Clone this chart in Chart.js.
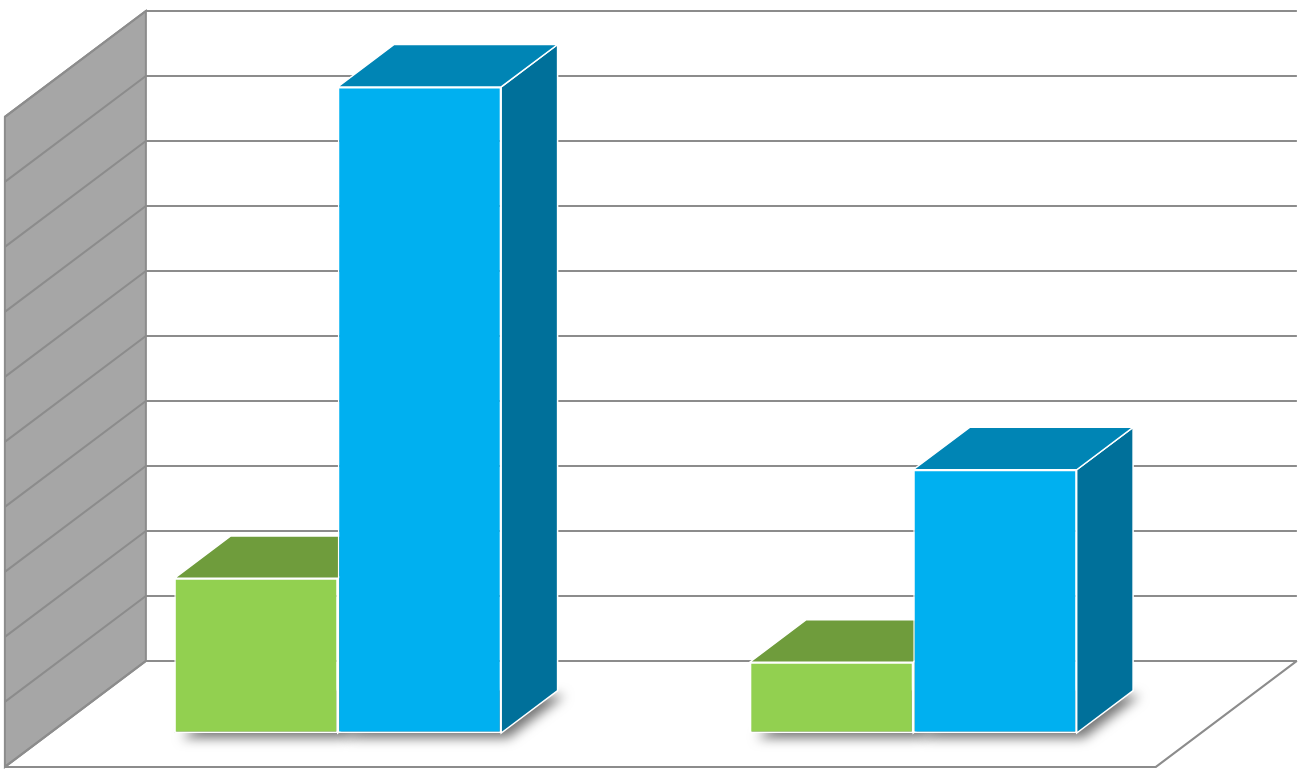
<!DOCTYPE html>
<html>
<head>
<meta charset="utf-8">
<script src="https://cdn.jsdelivr.net/npm/chart.js@4.4.0/dist/chart.umd.min.js"></script>
<style>
  html, body { margin: 0; padding: 0; background: #fff; }
</style>
</head>
<body>
<canvas id="chart" width="1307" height="772"></canvas>
<script>
// data (no axis labels in the original)
const categories = ['Group 1', 'Group 2'];
const greenValues = [2.38, 1.09];
const blueValues = [9.94, 4.05];
const yTicks = [0, 1, 2, 3, 4, 5, 6, 7, 8, 9, 10];

// 3d look
const DEPTH_X = 141, DEPTH_Y = -106; // floor front edge -> back wall
const FRONT = 0.32;                  // where the bar fronts sit in the depth
const BAR_DEPTH = 0.4;
const GRID = '#8c8c8c';

const faceColors = [
    { top: '#6f9c3c', side: '#5f8a30' },
    { top: '#0085b5', side: '#00709a' }
];

function poly(ctx, pts) {
    ctx.beginPath();
    ctx.moveTo(pts[0][0], pts[0][1]);
    for (let i = 1; i < pts.length; i++) ctx.lineTo(pts[i][0], pts[i][1]);
    ctx.closePath();
}

const box3d = {
    id: 'box3d',
    beforeDatasetsDraw(chart) {
        const ctx = chart.ctx;
        const a = chart.chartArea;
        const y = chart.scales.y;
        const bx = (1 - FRONT) * DEPTH_X, by = (1 - FRONT) * DEPTH_Y;
        const fx = -FRONT * DEPTH_X, fy = -FRONT * DEPTH_Y;
        const y0 = y.getPixelForValue(yTicks[0]);
        const yTop = y.getPixelForValue(yTicks[yTicks.length - 1]);

        ctx.save();
        // side wall
        poly(ctx, [[a.left + fx, yTop + fy], [a.left + bx, yTop + by], [a.left + bx, y0 + by], [a.left + fx, y0 + fy]]);
        ctx.fillStyle = '#a6a6a6';
        ctx.fill();
        ctx.strokeStyle = GRID;
        ctx.lineWidth = 2;
        ctx.stroke();

        // gridlines on back wall + side wall
        yTicks.forEach(v => {
            const py = y.getPixelForValue(v);
            ctx.beginPath();
            ctx.moveTo(a.left + fx, py + fy);
            ctx.lineTo(a.left + bx, py + by);
            ctx.lineTo(a.right + bx, py + by);
            ctx.stroke();
        });

        // floor
        ctx.beginPath();
        ctx.moveTo(a.left + fx, y0 + fy);
        ctx.lineTo(a.right + fx, y0 + fy);
        ctx.lineTo(a.right + bx, y0 + by);
        ctx.stroke();

        const dX = BAR_DEPTH * DEPTH_X, dY = BAR_DEPTH * DEPTH_Y;
        const bars = [];
        chart.data.datasets.forEach((ds, i) => {
            chart.getDatasetMeta(i).data.forEach(el => {
                const p = el.getProps(['x', 'y', 'base', 'width'], true);
                bars.push({ i, x0: p.x - p.width / 2, x1: p.x + p.width / 2, top: p.y, base: p.base });
            });
        });

        // soft shadow on the floor
        bars.forEach(b => {
            ctx.save();
            ctx.shadowColor = 'rgba(0,0,0,0.55)';
            ctx.shadowBlur = 12;
            ctx.shadowOffsetX = 7;
            ctx.shadowOffsetY = 5;
            poly(ctx, [[b.x0, b.base], [b.x1, b.base], [b.x1 + dX, b.base + dY], [b.x0 + dX, b.base + dY]]);
            ctx.fillStyle = '#888';
            ctx.fill();
            ctx.restore();
        });

        // top and side faces
        ctx.strokeStyle = '#fff';
        ctx.lineWidth = 1.5;
        bars.forEach(b => {
            const c = faceColors[b.i];
            poly(ctx, [[b.x1, b.top], [b.x1 + dX, b.top + dY], [b.x1 + dX, b.base + dY], [b.x1, b.base]]);
            ctx.fillStyle = c.side;
            ctx.fill();
            ctx.stroke();
            poly(ctx, [[b.x0, b.top], [b.x1, b.top], [b.x1 + dX, b.top + dY], [b.x0 + dX, b.top + dY]]);
            ctx.fillStyle = c.top;
            ctx.fill();
            ctx.stroke();
        });
        ctx.restore();
    }
};

new Chart(document.getElementById('chart'), {
    type: 'bar',
    data: {
        labels: categories,
        datasets: [
            { label: 'Series 1', data: greenValues, backgroundColor: '#92d050' },
            { label: 'Series 2', data: blueValues, backgroundColor: '#00b0f0' }
        ]
    },
    options: {
        responsive: false,
        animation: false,
        layout: { padding: { left: 50, right: 106, top: 83, bottom: 39 } },
        datasets: {
            bar: {
                categoryPercentage: 0.568,
                barPercentage: 1,
                borderColor: '#fff',
                borderWidth: 1.5,
                borderSkipped: false
            }
        },
        plugins: { legend: { display: false }, tooltip: { enabled: false } },
        scales: {
            x: { display: false },
            y: { display: false, min: 0, max: 10 }
        }
    },
    plugins: [box3d]
});
</script>
</body>
</html>
